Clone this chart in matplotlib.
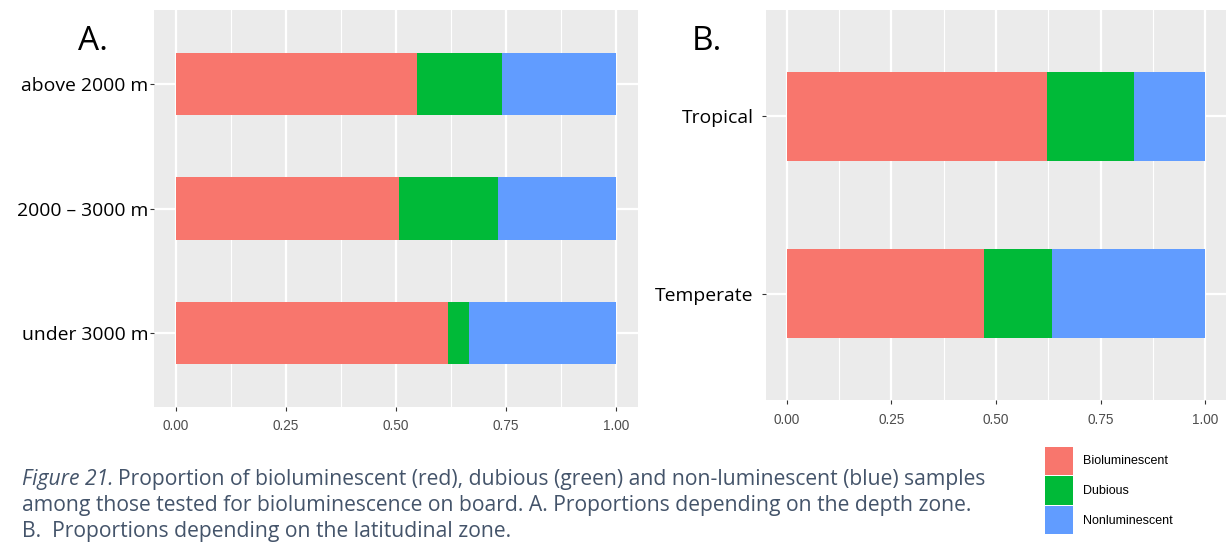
import matplotlib
matplotlib.use("Agg")
import matplotlib.pyplot as plt
from matplotlib.patches import Patch
import numpy as np

# ---- data ----
depth_zones = ["under 3000 m", "2000 – 3000 m", "above 2000 m"]
depth_biolum = [0.618, 0.507, 0.547]
depth_dubious = [0.048, 0.225, 0.195]
depth_nonlum = [0.334, 0.268, 0.258]

lat_zones = ["Temperate", "Tropical"]
lat_biolum = [0.471, 0.621]
lat_dubious = [0.163, 0.208]
lat_nonlum = [0.366, 0.171]

legend_labels = ["Bioluminescent", "Dubious", "Nonluminescent"]
x_ticks = [0.0, 0.25, 0.5, 0.75, 1.0]
x_ticklabels = ["0.00", "0.25", "0.50", "0.75", "1.00"]

colors = ["#F8766D", "#00BA38", "#619CFF"]
BG = "#EBEBEB"

W, H = 1226, 549
fig = plt.figure(figsize=(W / 100, H / 100), dpi=100)
fig.patch.set_facecolor("white")
renderer = fig.canvas.get_renderer()

LABEL_FONT = ["Open Sans", "DejaVu Sans"]


def fit_size(text, family, target_px, style="normal"):
    t = fig.text(0, 0, text, fontsize=10, family=family, style=style)
    w = t.get_window_extent(renderer=renderer).width
    t.remove()
    return 10 * target_px / w


ylab_size = fit_size("above 2000 m", LABEL_FONT, 127)


def px_axes(l, t, r, b):
    return fig.add_axes([l / W, 1 - b / H, (r - l) / W, (b - t) / H])


def style(ax, cats, series, ylab_pad):
    ax.set_facecolor(BG)
    for s in ax.spines.values():
        s.set_visible(False)
    n = len(cats)
    y = np.arange(n)
    for xv in [0.125, 0.375, 0.625, 0.875]:
        ax.axvline(xv, color="white", lw=0.8, zorder=0)
    for xv in x_ticks:
        ax.axvline(xv, color="white", lw=1.6, zorder=0)
    for yv in y:
        ax.axhline(yv, color="white", lw=1.6, zorder=0)
    left = np.zeros(n)
    for vals, c in zip(series, colors):
        ax.barh(y, vals, left=left, height=0.5, color=c, zorder=2, linewidth=0)
        left = left + np.array(vals)
    ax.set_xlim(-0.05, 1.05)
    ax.set_ylim(-0.6, n - 0.4)
    ax.set_xticks(x_ticks)
    ax.set_xticklabels(x_ticklabels, fontsize=9.8, color="#4D4D4D",
                       family=["Liberation Sans", "DejaVu Sans"])
    ax.set_yticks(y)
    ax.set_yticklabels(cats, fontsize=ylab_size, color="black",
                       family=LABEL_FONT)
    ax.tick_params(axis="x", length=3, width=0.8, color="#333333", pad=6)
    ax.tick_params(axis="y", length=3, width=0.8, color="#333333", pad=ylab_pad)


axA = px_axes(154, 10, 638, 407)
style(axA, depth_zones, [depth_biolum, depth_dubious, depth_nonlum], 1)

axB = px_axes(766, 10, 1226, 400)
style(axB, lat_zones, [lat_biolum, lat_dubious, lat_nonlum], 6)

fig.text(78 / W, 1 - 50 / H, "A.", fontsize=24, family=LABEL_FONT,
         va="baseline", ha="left")
fig.text(692 / W, 1 - 50 / H, "B.", fontsize=24, family=LABEL_FONT,
         va="baseline", ha="left")

# caption
cap_color = "#44546A"
line2 = "among those tested for bioluminescence on board. A. Proportions depending on the depth zone."
cap_size = fit_size(line2, LABEL_FONT, 950)
t1 = fig.text(22 / W, 1 - 485 / H, "Figure 21.", fontsize=cap_size, style="italic",
              color=cap_color, family=LABEL_FONT, va="baseline")
bb = t1.get_window_extent(renderer=renderer)
fig.text(bb.x1 / W + 4 / W, 1 - 485 / H,
         "Proportion of bioluminescent (red), dubious (green) and non-luminescent (blue) samples",
         fontsize=cap_size, color=cap_color, family=LABEL_FONT, va="baseline")
fig.text(22 / W, 1 - 511 / H, line2,
         fontsize=cap_size, color=cap_color, family=LABEL_FONT, va="baseline")
fig.text(22 / W, 1 - 537 / H,
         "B.  Proportions depending on the latitudinal zone.",
         fontsize=cap_size, color=cap_color, family=LABEL_FONT, va="baseline")

# legend
handles = [Patch(facecolor=c, edgecolor="none") for c in colors]
fig.legend(handles, legend_labels, loc="upper left",
           bbox_to_anchor=(1042 / W, 1 - 444 / H), frameon=False,
           prop={"family": ["Liberation Sans", "DejaVu Sans"], "size": 9},
           handlelength=2.3, handleheight=3.1, labelspacing=0.12,
           handletextpad=0.8, borderaxespad=0, borderpad=0.2)

fig.savefig("out.png", dpi=100, facecolor="white")
